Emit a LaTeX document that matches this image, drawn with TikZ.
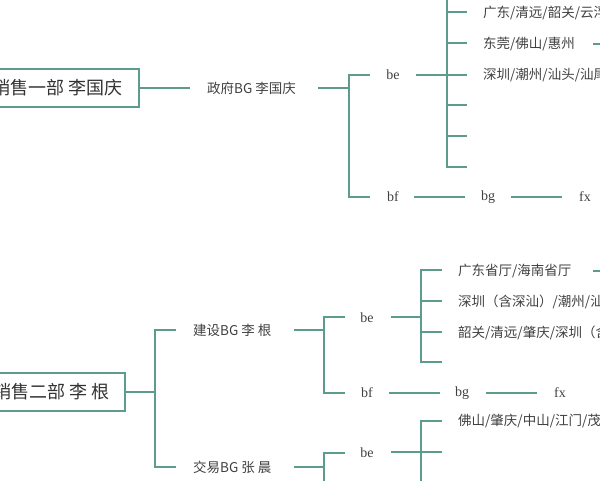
\documentclass[tikz,border=0pt]{standalone}
\usepackage{fontspec}
\newfontfamily\cjk{Noto Sans CJK SC}
\setmainfont{Liberation Serif}
\definecolor{teal1}{HTML}{5B9C8C}
\begin{document}
\begin{tikzpicture}[x=1pt,y=-1pt,
  ln/.style={draw=teal1,line width=1.6pt},
  lbl/.style={font=\cjk\fontsize{13.5}{16}\selectfont,text=black!75,inner sep=0pt,anchor=west},
  lat/.style={font=\fontsize{14}{16}\selectfont,text=black!75,inner sep=0pt},
  box/.style={font=\cjk\fontsize{18}{20}\selectfont,text=black!80,inner sep=0pt}]
\useasboundingbox (0,0) rectangle (600,480);
\clip (0,0) rectangle (600,480);
% Part 1
\draw[ln,fill=white] (-60,69) rectangle (139,107);
\node[box,anchor=east] (d1) at (123,88) {销售一部 李国庆};
\coordinate (d1r) at (139,88);
\node[lbl] (g1) at (207,88) {政府BG 李国庆};
\draw[ln] (d1r) -- (190,88);
\draw[ln] (318,88) -- (349,88);
\draw[ln] (349,75) -- (349,197);
\node[lat] (be1) at (393,75) {be};
\node[lat] (bf1) at (393,197) {bf};
\draw[ln] (348,75) -- (370,75);
\draw[ln] (348,197) -- (370,197);
\draw[ln] (416,75) -- (447,75);
\draw[ln] (447,-5) -- (447,167);
\foreach \y in {-2,12,43,75,105,136,167} \draw[ln] (446,\y) -- (467,\y);
\node[lbl] (a1) at (483,13) {广东/清远/韶关/云浮/阳江};
\node[lbl] (a2) at (483,44) {东莞/佛山/惠州};
\draw[ln] (593,44) -- (605,44);
\node[lbl] (a3) at (483,75) {深圳/潮州/汕头/汕尾/梅州};
\node[lat] (bg1) at (488,197) {bg};
\node[lat] (fx1) at (585,197) {fx};
\draw[ln] (414,197) -- (465,197);
\draw[ln] (511,197) -- (562,197);
% Part 2
\draw[ln,fill=white] (-60,373) rectangle (125,411);
\node[box,anchor=east] (d2) at (110,392) {销售二部 李 根};
\draw[ln] (125,392) -- (155,392);
\draw[ln] (155,330) -- (155,467);
\draw[ln] (154,330) -- (176,330);
\draw[ln] (154,467) -- (176,467);
\node[lbl] (g2) at (193,330) {建设BG 李 根};
\node[lbl] (g3) at (193,467) {交易BG 张 晨};
\draw[ln] (294,330) -- (324,330);
\draw[ln] (324,317) -- (324,393);
\draw[ln] (323,317) -- (345,317);
\draw[ln] (323,393) -- (345,393);
\node[lat] (be2) at (367,318) {be};
\node[lat] (bf2) at (367,393) {bf};
\draw[ln] (391,317) -- (421,317);
\draw[ln] (421,270) -- (421,362);
\foreach \y in {270,301,332,362} \draw[ln] (420,\y) -- (442,\y);
\node[lbl] (c1) at (458,271) {广东省厅/海南省厅};
\draw[ln] (593,271) -- (605,271);
\node[lbl] (c2) at (458,302) {深圳（含深汕）/潮州/汕头};
\node[lbl] (c3) at (458,333) {韶关/清远/肇庆/深圳（含深汕）};
\node[lat] (bg2) at (462,393) {bg};
\node[lat] (fx2) at (560,393) {fx};
\draw[ln] (389,393) -- (440,393);
\draw[ln] (486,393) -- (537,393);
% Part 3
\draw[ln] (294,467) -- (324,467);
\draw[ln] (324,453) -- (324,490);
\draw[ln] (323,453) -- (345,453);
\node[lat] (be3) at (367,453) {be};
\draw[ln] (391,452) -- (421,452);
\draw[ln] (421,421) -- (421,490);
\foreach \y in {421,452} \draw[ln] (420,\y) -- (442,\y);
\node[lbl] (e1) at (458,421) {佛山/肇庆/中山/江门/茂名};
\end{tikzpicture}
\end{document}
